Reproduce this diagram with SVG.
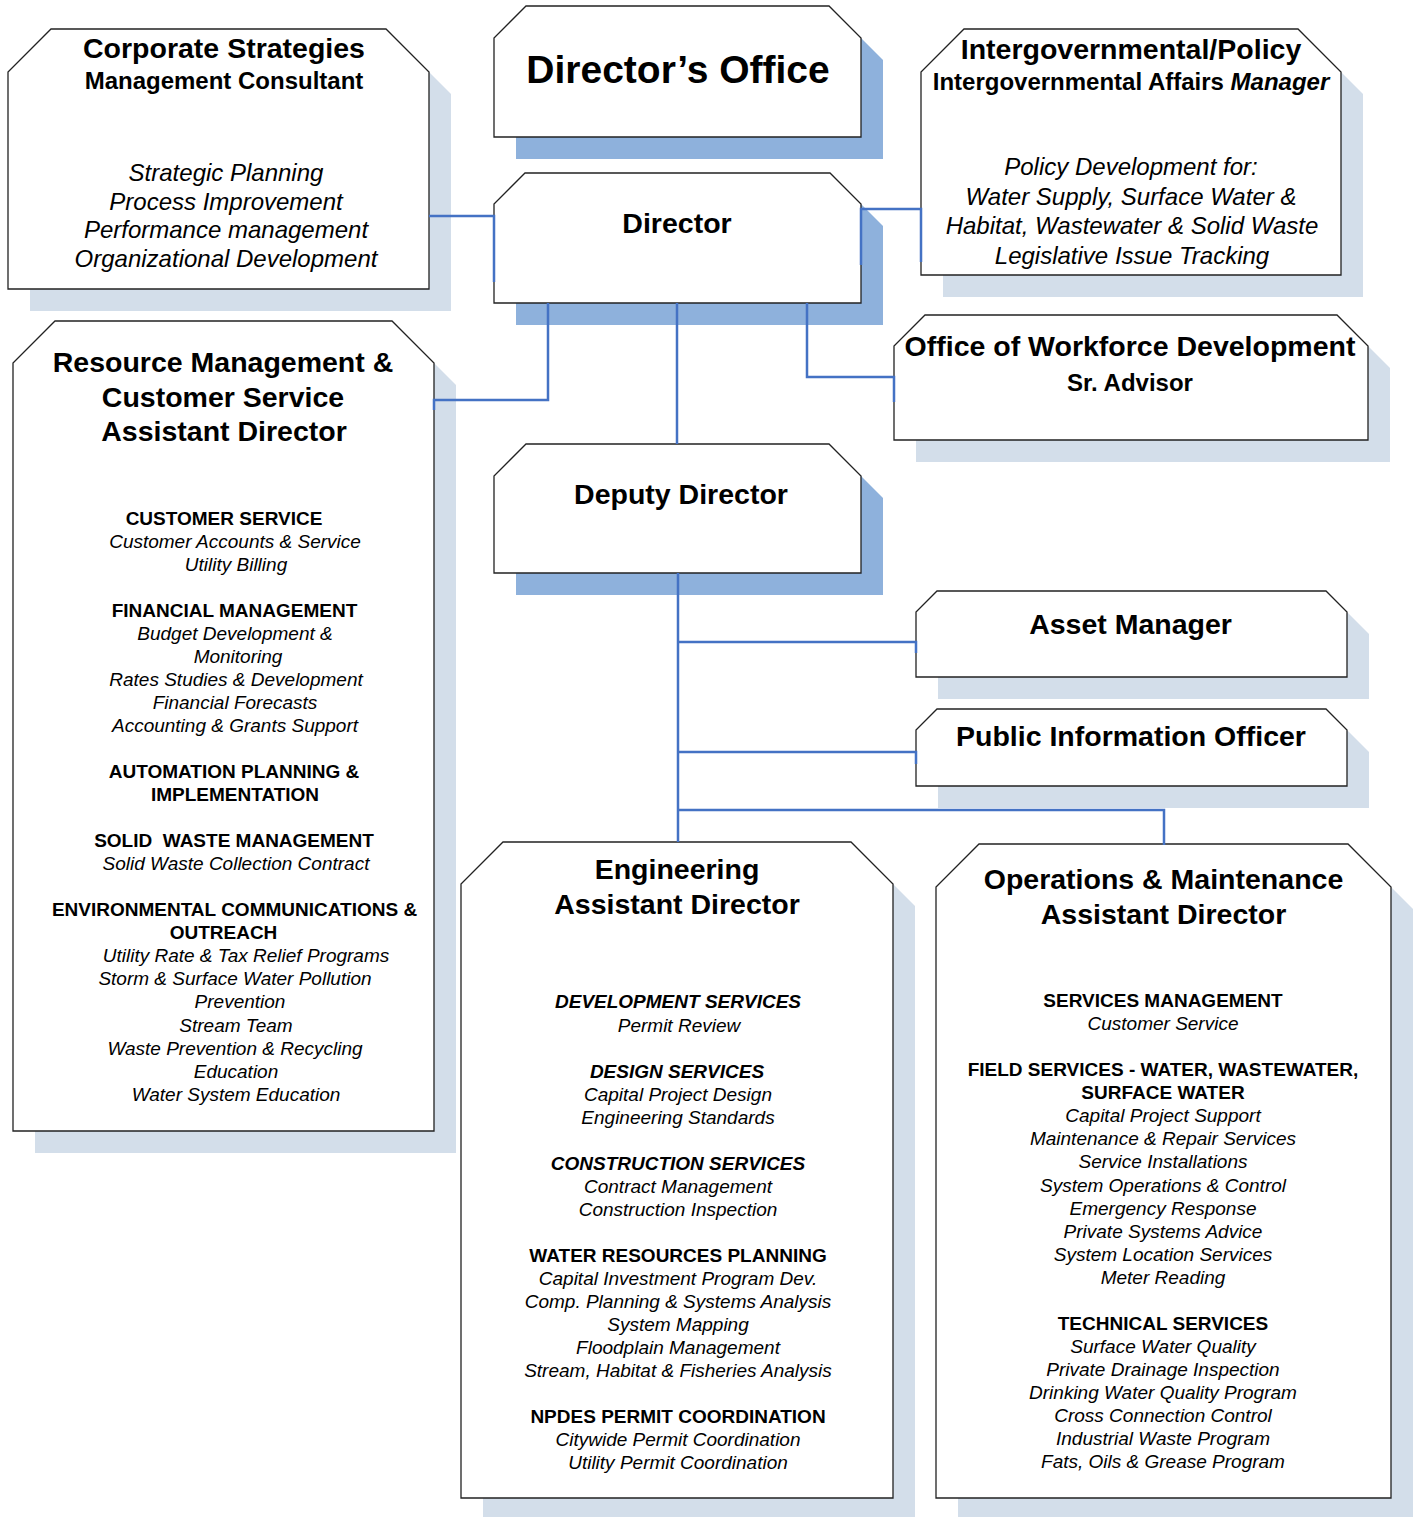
<svg xmlns="http://www.w3.org/2000/svg" width="1415" height="1517" viewBox="0 0 1415 1517">
<style>
.box{fill:#fff;stroke:#222;stroke-width:1.3}
.shl{fill:#d3deea}
.shd{fill:#8eb1dc}
.conn{fill:none;stroke:#4472c4;stroke-width:2.5}
text{font-family:"Liberation Sans",Arial,sans-serif;text-anchor:middle;fill:#000}
.ti{font-size:28.5px;font-weight:bold}
.big{font-size:39px;font-weight:bold}
.b24{font-size:24px;font-weight:bold}
.i24{font-size:24px;font-style:italic}
.h{font-size:19px;font-weight:bold}
.hi{font-size:19px;font-weight:bold;font-style:italic}
.i{font-size:19px;font-style:italic}
</style>
<rect width="1415" height="1517" fill="#fff"/>

<g id="corporate-strategies">
<polygon class="shl" points="30,311 30,94 73,51 408,51 451,94 451,311"/>
<polygon class="box" points="8,289 8,72 51,29 386,29 429,72 429,289"/>
<text class="ti" x="224" y="58">Corporate Strategies</text>
<text class="b24" x="224" y="89">Management Consultant</text>
<text class="i24" x="226" y="181">Strategic Planning</text>
<text class="i24" x="226" y="210">Process Improvement</text>
<text class="i24" x="226" y="238">Performance management</text>
<text class="i24" x="226" y="267">Organizational Development</text>
</g>

<g id="directors-office">
<polygon class="shd" points="516,159 516,60 548,28 851,28 883,60 883,159"/>
<polygon class="box" points="494,137 494,38 526,6 829,6 861,38 861,137"/>
<text class="big" x="678" y="83">Director’s Office</text>
</g>

<g id="director">
<polygon class="shd" points="516,325 516,226 547,195 852,195 883,226 883,325"/>
<polygon class="box" points="494,303 494,204 525,173 830,173 861,204 861,303"/>
<text class="ti" x="677" y="233">Director</text>
</g>

<g id="intergovernmental">
<polygon class="shl" points="943,297 943,94 986,51 1320,51 1363,94 1363,297"/>
<polygon class="box" points="921,275 921,72 964,29 1298,29 1341,72 1341,275"/>
<text class="ti" x="1131" y="59">Intergovernmental/Policy</text>
<text class="b24" x="1131" y="90">Intergovernmental Affairs <tspan font-style="italic">Manager</tspan></text>
<text class="i24" x="1131" y="175">Policy Development for:</text>
<text class="i24" x="1131" y="205">Water Supply, Surface Water &amp;</text>
<text class="i24" x="1132" y="234">Habitat, Wastewater &amp; Solid Waste</text>
<text class="i24" x="1132" y="264">Legislative Issue Tracking</text>
</g>

<g id="workforce-development">
<polygon class="shl" points="916,462 916,368 947,337 1359,337 1390,368 1390,462"/>
<polygon class="box" points="894,440 894,346 925,315 1337,315 1368,346 1368,440"/>
<text class="ti" x="1130" y="356">Office of Workforce Development</text>
<text class="b24" x="1130" y="391">Sr. Advisor</text>
</g>

<g id="resource-management">
<polygon class="shl" points="35,1153 35,385 77,343 414,343 456,385 456,1153"/>
<polygon class="box" points="13,1131 13,363 55,321 392,321 434,363 434,1131"/>
<text class="ti" x="223" y="372">Resource Management &amp;</text>
<text class="ti" x="223" y="407">Customer Service</text>
<text class="ti" x="224" y="441">Assistant Director</text>
<text class="h" x="224" y="525">CUSTOMER SERVICE</text>
<text class="i" x="235" y="548">Customer Accounts &amp; Service</text>
<text class="i" x="236" y="571">Utility Billing</text>
<text class="h" x="234.5" y="617">FINANCIAL MANAGEMENT</text>
<text class="i" x="235" y="640">Budget Development &amp;</text>
<text class="i" x="238" y="663">Monitoring</text>
<text class="i" x="236" y="686">Rates Studies &amp; Development</text>
<text class="i" x="235" y="709">Financial Forecasts</text>
<text class="i" x="235" y="732">Accounting &amp; Grants Support</text>
<text class="h" x="234" y="778">AUTOMATION PLANNING &amp;</text>
<text class="h" x="235" y="801">IMPLEMENTATION</text>
<text class="h" x="234" y="847" xml:space="preserve">SOLID  WASTE MANAGEMENT</text>
<text class="i" x="236" y="870">Solid Waste Collection Contract</text>
<text class="h" x="234.5" y="916">ENVIRONMENTAL COMMUNICATIONS &amp;</text>
<text class="h" x="223.5" y="939">OUTREACH</text>
<text class="i" x="246" y="962">Utility Rate &amp; Tax Relief Programs</text>
<text class="i" x="235" y="985">Storm &amp; Surface Water Pollution</text>
<text class="i" x="240" y="1008">Prevention</text>
<text class="i" x="236" y="1032">Stream Team</text>
<text class="i" x="235" y="1055">Waste Prevention &amp; Recycling</text>
<text class="i" x="236" y="1078">Education</text>
<text class="i" x="236" y="1101">Water System Education</text>
</g>

<g id="deputy-director">
<polygon class="shd" points="516,595 516,498 548,466 851,466 883,498 883,595"/>
<polygon class="box" points="494,573 494,476 526,444 829,444 861,476 861,573"/>
<text class="ti" x="681" y="504">Deputy Director</text>
</g>

<g id="asset-manager">
<polygon class="shl" points="938,699 938,634 959,613 1348,613 1369,634 1369,699"/>
<polygon class="box" points="916,677 916,612 937,591 1326,591 1347,612 1347,677"/>
<text class="ti" x="1130.5" y="634">Asset Manager</text>
</g>

<g id="public-information-officer">
<polygon class="shl" points="938,808 938,752 959,731 1348,731 1369,752 1369,808"/>
<polygon class="box" points="916,786 916,730 937,709 1326,709 1347,730 1347,786"/>
<text class="ti" x="1131" y="746">Public Information Officer</text>
</g>

<g id="engineering">
<polygon class="shl" points="483,1520 483,906 525,864 873,864 915,906 915,1520"/>
<polygon class="box" points="461,1498 461,884 503,842 851,842 893,884 893,1498"/>
<text class="ti" x="677" y="879">Engineering</text>
<text class="ti" x="677" y="914">Assistant Director</text>
<text class="hi" x="678" y="1008">DEVELOPMENT SERVICES</text>
<text class="i" x="679" y="1032">Permit Review</text>
<text class="hi" x="677" y="1078">DESIGN SERVICES</text>
<text class="i" x="678" y="1101">Capital Project Design</text>
<text class="i" x="678" y="1124">Engineering Standards</text>
<text class="hi" x="678" y="1170">CONSTRUCTION SERVICES</text>
<text class="i" x="678" y="1193">Contract Management</text>
<text class="i" x="678" y="1216">Construction Inspection</text>
<text class="h" x="678" y="1262">WATER RESOURCES PLANNING</text>
<text class="i" x="678" y="1285">Capital Investment Program Dev.</text>
<text class="i" x="678" y="1308">Comp. Planning &amp; Systems Analysis</text>
<text class="i" x="678" y="1331">System Mapping</text>
<text class="i" x="678" y="1354">Floodplain Management</text>
<text class="i" x="678" y="1377">Stream, Habitat &amp; Fisheries Analysis</text>
<text class="h" x="678" y="1423">NPDES PERMIT COORDINATION</text>
<text class="i" x="678" y="1446">Citywide Permit Coordination</text>
<text class="i" x="678" y="1469">Utility Permit Coordination</text>
</g>

<g id="operations-maintenance">
<polygon class="shl" points="958,1520 958,909 1001,866 1370,866 1413,909 1413,1520"/>
<polygon class="box" points="936,1498 936,887 979,844 1348,844 1391,887 1391,1498"/>
<text class="ti" x="1163.5" y="889">Operations &amp; Maintenance</text>
<text class="ti" x="1163.5" y="924">Assistant Director</text>
<text class="h" x="1163" y="1007">SERVICES MANAGEMENT</text>
<text class="i" x="1163" y="1030">Customer Service</text>
<text class="h" x="1163" y="1076">FIELD SERVICES - WATER, WASTEWATER,</text>
<text class="h" x="1163" y="1099">SURFACE WATER</text>
<text class="i" x="1163" y="1122">Capital Project Support</text>
<text class="i" x="1163" y="1145">Maintenance &amp; Repair Services</text>
<text class="i" x="1163" y="1168">Service Installations</text>
<text class="i" x="1163" y="1192">System Operations &amp; Control</text>
<text class="i" x="1163" y="1215">Emergency Response</text>
<text class="i" x="1163" y="1238">Private Systems Advice</text>
<text class="i" x="1163" y="1261">System Location Services</text>
<text class="i" x="1163" y="1284">Meter Reading</text>
<text class="h" x="1163" y="1330">TECHNICAL SERVICES</text>
<text class="i" x="1163" y="1353">Surface Water Quality</text>
<text class="i" x="1163" y="1376">Private Drainage Inspection</text>
<text class="i" x="1163" y="1399">Drinking Water Quality Program</text>
<text class="i" x="1163" y="1422">Cross Connection Control</text>
<text class="i" x="1163" y="1445">Industrial Waste Program</text>
<text class="i" x="1163" y="1468">Fats, Oils &amp; Grease Program</text>
</g>

<g id="connectors">
<path class="conn" d="M429,216 H494 V282"/>
<path class="conn" d="M861,265 V209 H921 V262"/>
<path class="conn" d="M548,303 V400 H434 V410"/>
<path class="conn" d="M677,303 V444"/>
<path class="conn" d="M807,303 V377 H894 V402"/>
<path class="conn" d="M678,573 V842"/>
<path class="conn" d="M678,642 H916 V653"/>
<path class="conn" d="M678,752 H916 V764"/>
<path class="conn" d="M678,810 H1164 V845"/>
</g>
</svg>
